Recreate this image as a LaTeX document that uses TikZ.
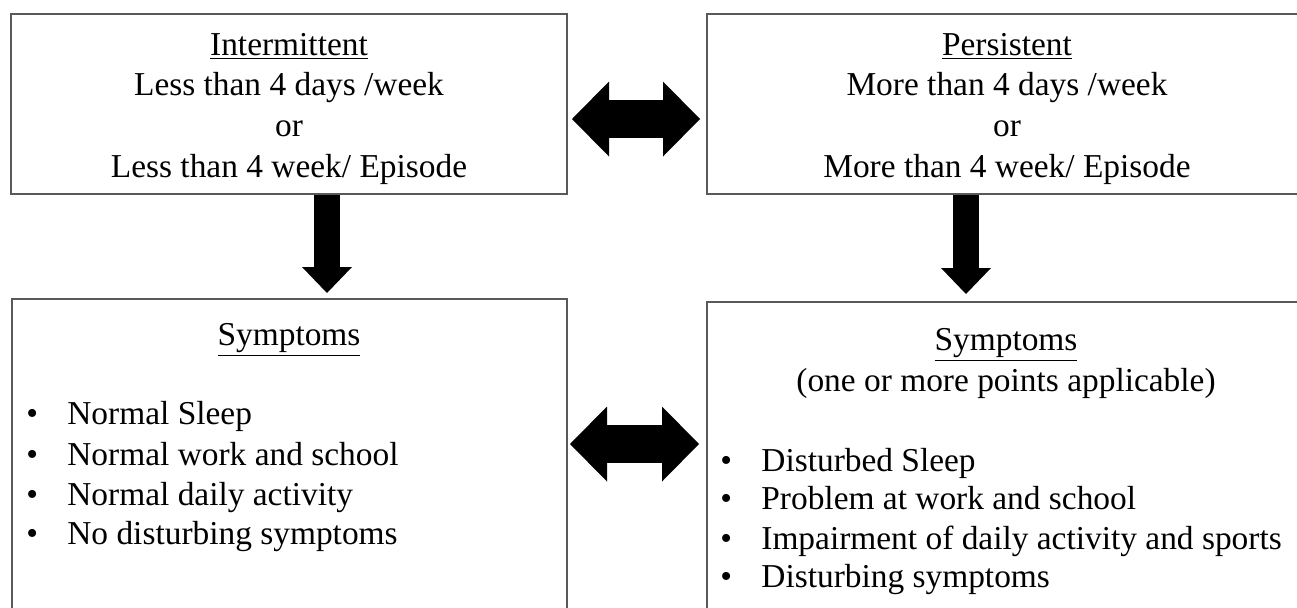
\documentclass[tikz,border=0pt]{standalone}
\usepackage{fontspec}
\setmainfont{Liberation Serif}
\usetikzlibrary{arrows.meta,fit}
\newcommand{\bulletitem}[1]{\makebox[20.5pt][l]{\textbullet}#1}
\begin{document}
\begin{tikzpicture}[x=0.5pt,y=-0.5pt,
  box/.style={draw=black!65, line width=1pt, inner sep=0pt},
  txt/.style={font=\fontsize{16.7}{20.3}\selectfont, inner sep=0pt},
  down/.style={line width=13pt, -{Triangle[width=25pt,length=13pt,line width=0pt]}},
  both/.style={line width=19pt, {Triangle[width=37.5pt,length=18.5pt,line width=0pt]}-{Triangle[width=37.5pt,length=18.5pt,line width=0pt]}}]
\useasboundingbox (0,0) rectangle (1297,607);
\clip (0,0) rectangle (1297,607);
% box corners
\coordinate (tl1) at (11,14);  \coordinate (tl2) at (567,194);
\coordinate (tr1) at (707,14); \coordinate (tr2) at (1307,194);
\coordinate (bl1) at (12,299); \coordinate (bl2) at (567,640);
\coordinate (br1) at (707,302); \coordinate (br2) at (1307,640);
\node[box, fit=(tl1)(tl2)] (TL) {};
\node[box, fit=(tr1)(tr2)] (TR) {};
\node[box, fit=(bl1)(bl2)] (BL) {};
\node[box, fit=(br1)(br2)] (BR) {};
% top-left text
\node[txt, anchor=base] (tl-a) at (289,55) {\underline{Intermittent}};
\node[txt, anchor=base] (tl-b) at (289,95) {Less than 4 days /week};
\node[txt, anchor=base] (tl-c) at (289,136) {or};
\node[txt, anchor=base] (tl-d) at (289,177) {Less than 4 week/ Episode};
% top-right text
\node[txt, anchor=base] (tr-a) at (1007,55) {\underline{Persistent}};
\node[txt, anchor=base] (tr-b) at (1007,95) {More than 4 days /week};
\node[txt, anchor=base] (tr-c) at (1007,136) {or};
\node[txt, anchor=base] (tr-d) at (1007,177) {More than 4 week/ Episode};
% bottom-left text
\node[txt, anchor=base] (bl-h) at (289,345) {\underline{Symptoms}};
\node[txt, anchor=base west] (bl-1) at (26,424) {\bulletitem{Normal Sleep}};
\node[txt, anchor=base west] (bl-2) at (26,465) {\bulletitem{Normal work and school}};
\node[txt, anchor=base west] (bl-3) at (26,505) {\bulletitem{Normal daily activity}};
\node[txt, anchor=base west] (bl-4) at (26,544) {\bulletitem{No disturbing symptoms}};
% bottom-right text
\node[txt, anchor=base] (br-h) at (1006,350) {\underline{Symptoms}};
\node[txt, anchor=base] (br-s) at (1006,391) {(one or more points applicable)};
\node[txt, anchor=base west] (br-1) at (720,471) {\bulletitem{Disturbed Sleep}};
\node[txt, anchor=base west] (br-2) at (720,509) {\bulletitem{Problem at work and school}};
\node[txt, anchor=base west] (br-3) at (720,549) {\bulletitem{Impairment of daily activity and sports}};
\node[txt, anchor=base west] (br-4) at (720,587) {\bulletitem{Disturbing symptoms}};
% arrows
\coordinate (ya) at (0,119);
\coordinate (yb) at (0,444);
\coordinate (xl) at (327,0);
\coordinate (xr) at (966,0);
\draw[both] ([xshift=2pt]TL.east |- ya) -- ([xshift=-3pt]TR.west |- ya);
\draw[both] ([xshift=1pt]BL.east |- yb) -- ([xshift=-3.5pt]BR.west |- yb);
\draw[down] (TL.south -| xl) -- ([yshift=2.5pt]BL.north -| xl);
\draw[down] (TR.south -| xr) -- ([yshift=3.5pt]BR.north -| xr);
\end{tikzpicture}
\end{document}
